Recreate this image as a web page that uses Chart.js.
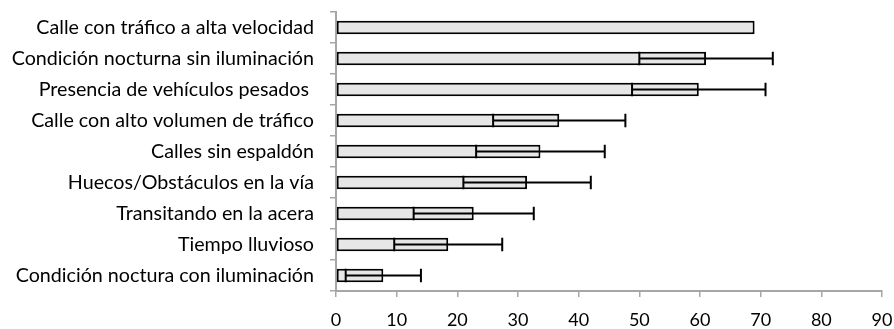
<!DOCTYPE html>
<html>
<head>
<meta charset="utf-8">
<script src="https://cdn.jsdelivr.net/npm/chart.js@4/dist/chart.umd.min.js"></script>
<style>
  html, body { margin: 0; padding: 0; background: #fff; }
  #wrap { width: 894px; height: 329px; }
</style>
</head>
<body>
<div id="wrap"><canvas id="chart"></canvas></div>
<script>
// categorias (de arriba hacia abajo)
const categories = [
  'Calle con tráfico a alta velocidad',
  'Condición nocturna sin iluminación',
  'Presencia de vehículos pesados ',
  'Calle con alto volumen de tráfico',
  'Calles sin espaldón',
  'Huecos/Obstáculos en la vía',
  'Transitando en la acera',
  'Tiempo lluvioso',
  'Condición noctura con iluminación'
]
// valor medio de cada barra
const values = [69, 61, 59.8, 36.8, 33.7, 31.5, 22.7, 18.5, 7.8]
// error (+/-) de cada barra
const errors = [0, 11, 11, 10.9, 10.6, 10.5, 9.9, 8.9, 6.2]
const xTicks = [0, 10, 20, 30, 40, 50, 60, 70, 80, 90]

const fontFamily = "Lato, 'Open Sans', sans-serif"

// dibuja las barras de error encima de las barras
const errorBars = {
  id: 'errorBars',
  afterDatasetsDraw(chart) {
    const ctx = chart.ctx
    const x = chart.scales.x
    const meta = chart.getDatasetMeta(0)
    ctx.save()
    ctx.strokeStyle = '#000'
    ctx.lineWidth = 2
    meta.data.forEach((bar, i) => {
      const e = errors[i]
      if (!e) return
      const y = bar.y
      const h = bar.height / 2
      const x1 = x.getPixelForValue(values[i] - e)
      const x2 = x.getPixelForValue(values[i] + e)
      ctx.beginPath()
      ctx.moveTo(x1, y)
      ctx.lineTo(x2, y)
      ctx.moveTo(x1, y - h)
      ctx.lineTo(x1, y + h)
      ctx.moveTo(x2, y - h)
      ctx.lineTo(x2, y + h)
      ctx.stroke()
    })
    ctx.restore()
  }
}

new Chart(document.getElementById('chart'), {
  type: 'bar',
  data: {
    labels: categories,
    datasets: [{
      data: values,
      backgroundColor: '#e6e6e6',
      borderColor: '#000',
      borderWidth: 2,
      borderSkipped: false,
      barPercentage: 0.43,
      categoryPercentage: 1
    }]
  },
  options: {
    indexAxis: 'y',
    responsive: true,
    maintainAspectRatio: false,
    animation: false,
    layout: { padding: { top: 12, right: 12, left: 0, bottom: 0 } },
    plugins: {
      legend: { display: false },
      tooltip: { enabled: false }
    },
    scales: {
      x: {
        min: 0,
        max: 90,
        afterBuildTicks: scale => { scale.ticks = xTicks.map(v => ({ value: v })) },
        afterFit: scale => {
          scale.height = 38
          scale.paddingLeft = 0
          scale.paddingRight = 0
        },
        border: { color: '#a6a6a6', width: 2 },
        grid: { drawOnChartArea: false, color: '#a6a6a6', lineWidth: 1.5, tickLength: 6 },
        ticks: { color: '#000', padding: 12, maxRotation: 0, font: { family: fontFamily, size: 18 } }
      },
      y: {
        afterFit: scale => {
          scale.width = 336
          scale.paddingTop = 0
          scale.paddingBottom = 0
        },
        border: { color: '#a6a6a6', width: 2 },
        grid: { offset: true, drawOnChartArea: false, color: '#a6a6a6', lineWidth: 1.5, tickLength: 6 },
        ticks: { color: '#000', padding: 16, font: { family: fontFamily, size: 19.7 } }
      }
    }
  },
  plugins: [errorBars]
})
</script>
</body>
</html>
